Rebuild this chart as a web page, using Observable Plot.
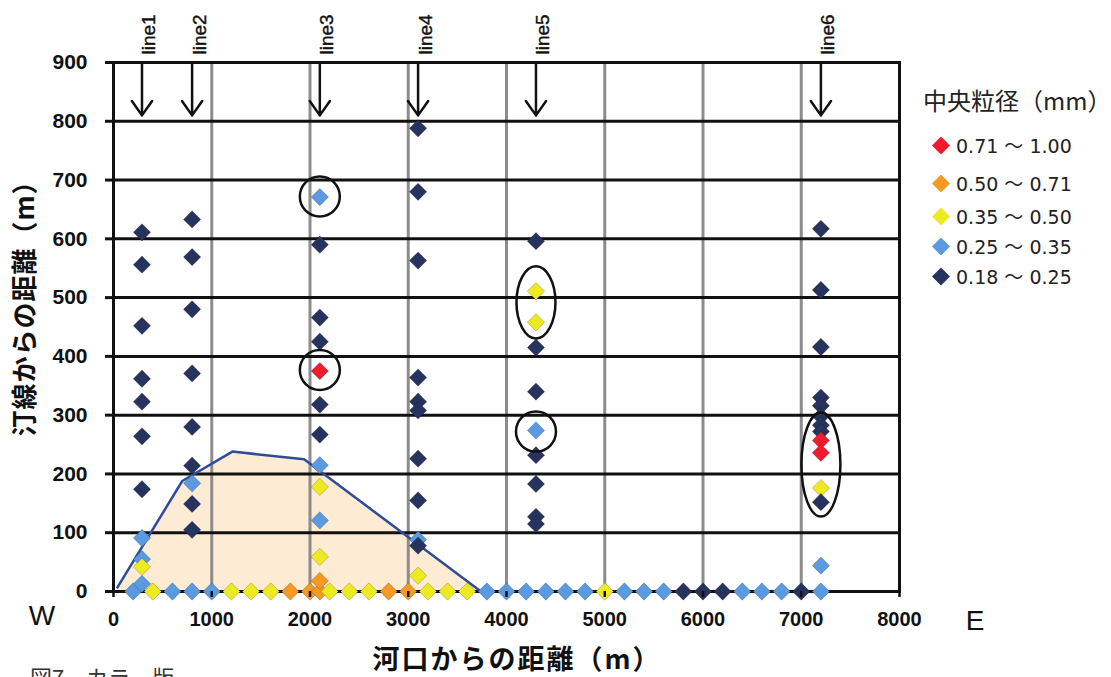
<!DOCTYPE html>
<html><head><meta charset="utf-8">
<script src="https://cdn.jsdelivr.net/npm/d3@7"></script>
<script src="https://cdn.jsdelivr.net/npm/@observablehq/plot@0.6"></script>
<style>
body{margin:0;background:#fff;}
#wrap{position:relative;width:1111px;height:677px;overflow:hidden;background:#fff;}
.t{position:absolute;white-space:nowrap;color:#111;line-height:1;}
.cjk{font-family:"Noto Sans CJK JP","Noto Sans",sans-serif;}
.lat{font-family:"Liberation Sans",Arial,sans-serif;}
.leg{font-family:"DejaVu Sans",Verdana,sans-serif;font-size:19px;color:#222;}
.wave{font-family:"Noto Sans CJK JP",sans-serif;}
</style></head><body><div id="wrap"></div>
<script>
// ---- data ----
const sizeClasses = ["0.71 ～ 1.00", "0.50 ～ 0.71", "0.35 ～ 0.50", "0.25 ～ 0.35", "0.18 ～ 0.25"];
const classColors = ["#ee1c2e", "#f39a25", "#eeea22", "#5a9ae0", "#27335f"];

const lineNames = ["line1", "line2", "line3", "line4", "line5", "line6"];
const lineX = [290, 800, 2100, 3100, 4300, 7200];

// class index: 0 red, 1 orange, 2 yellow, 3 light blue, 4 navy
const line1Y = [611, 556, 452, 362, 323, 264, 174, 91, 55, 42, 13];
const line1C = [4, 4, 4, 4, 4, 4, 4, 3, 3, 2, 3];
const line2Y = [633, 569, 480, 371, 280, 214, 184, 149, 105];
const line2C = [4, 4, 4, 4, 4, 4, 3, 4, 4];
const line3Y = [671, 590, 466, 425, 375, 318, 267, 215, 178, 121, 59, 18];
const line3C = [3, 4, 4, 4, 0, 4, 4, 3, 2, 3, 2, 1];
const line4Y = [788, 680, 563, 364, 323, 308, 226, 155, 88, 78, 27];
const line4C = [4, 4, 4, 4, 4, 4, 4, 4, 3, 4, 2];
const line5Y = [596, 511, 458, 415, 340, 274, 232, 183, 127, 115];
const line5C = [4, 2, 2, 4, 4, 3, 4, 4, 4, 4];
const line6Y = [617, 513, 416, 330, 316, 298, 283, 272, 257, 236, 176, 152, 44];
const line6C = [4, 4, 4, 4, 4, 4, 4, 4, 0, 0, 2, 4, 3];

// samples on the shoreline (y = 0)
const shoreX = [200, 400, 600, 800, 1000, 1200, 1400, 1600, 1800, 2000, 2100, 2200, 2400, 2600, 2800, 3000, 3200, 3400, 3600,
  3800, 4000, 4200, 4400, 4600, 4800, 5000, 5200, 5400, 5600, 5800, 6000, 6200, 6400, 6600, 6800, 7000, 7200];
const shoreC = [3, 2, 3, 3, 3, 2, 2, 2, 1, 1, 1, 2, 2, 2, 1, 1, 2, 2, 2,
  3, 3, 3, 3, 3, 3, 2, 3, 3, 3, 4, 4, 4, 3, 3, 3, 4, 3];

// shaded profile
const profileX = [40, 700, 1210, 1940, 3740];
const profileY = [7, 188, 238, 225, 0];

// annotations
const circleX = [2100, 2100, 4300];
const circleY = [672, 377, 272];
const ovalAX = [4300], ovalAY = [492];
const ovalBX = [7200], ovalBY = [216];

const xTicks = [0, 1000, 2000, 3000, 4000, 5000, 6000, 7000, 8000];
const yTicks = [0, 100, 200, 300, 400, 500, 600, 700, 800, 900];
const xGrid = [1000, 2000, 3000, 4000, 5000, 6000, 7000];

// ---- build tables ----
const colsY = [line1Y, line2Y, line3Y, line4Y, line5Y, line6Y];
const colsC = [line1C, line2C, line3C, line4C, line5C, line6C];
const points = [];
shoreX.forEach((x, i) => points.push({x, y: 0, c: shoreC[i]}));
colsY.forEach((ys, j) => ys.forEach((y, i) => points.push({x: lineX[j], y, c: colsC[j][i]})));
const profile = profileX.map((x, i) => ({x, y: profileY[i]}));
const lines = lineNames.map((name, i) => ({name, x: lineX[i]}));

function ovalSymbol(k) {
  return {draw(ctx, size) {
    const rx = Math.sqrt(size / Math.PI), ry = rx * k, c = 0.5523;
    ctx.moveTo(rx, 0);
    ctx.bezierCurveTo(rx, c * ry, c * rx, ry, 0, ry);
    ctx.bezierCurveTo(-c * rx, ry, -rx, c * ry, -rx, 0);
    ctx.bezierCurveTo(-rx, -c * ry, -c * rx, -ry, 0, -ry);
    ctx.bezierCurveTo(c * rx, -ry, rx, -c * ry, rx, 0);
    ctx.closePath();
  }};
}

const chart = Plot.plot({
  width: 1111, height: 677,
  marginLeft: 113, marginRight: 212, marginTop: 62, marginBottom: 86,
  x: {domain: [0, 8000]},
  y: {domain: [0, 900]},
  color: {type: "ordinal", domain: [0, 1, 2, 3, 4], range: classColors},
  style: {fontFamily: "'Liberation Sans', Arial, sans-serif", fontSize: "20px", color: "#111", background: "transparent"},
  marks: [
    Plot.areaY(profile, {x: "x", y: "y", fill: "#fdebd4"}),
    Plot.ruleX(xGrid, {stroke: "#8c8c8c", strokeWidth: 3}),
    Plot.ruleY(yTicks, {stroke: "#111", strokeWidth: 3}),
    Plot.frame({stroke: "#111", strokeWidth: 3}),
    Plot.line(profile, {x: "x", y: "y", stroke: "#2f4b9b", strokeWidth: 2.5}),
    Plot.dot(points, {x: "x", y: "y", fill: "c", symbol: "diamond2", r: 7.8, stroke: "rgba(0,0,0,0.25)", strokeWidth: 0.8}),
    Plot.dot(circleX.map((x, i) => ({x, y: circleY[i]})), {x: "x", y: "y", r: 20, fill: "none", stroke: "#111", strokeWidth: 2.5}),
    Plot.dot(ovalAX.map((x, i) => ({x, y: ovalAY[i]})), {x: "x", y: "y", r: 19.5, symbol: ovalSymbol(1.85), fill: "none", stroke: "#111", strokeWidth: 2.5}),
    Plot.dot(ovalBX.map((x, i) => ({x, y: ovalBY[i]})), {x: "x", y: "y", r: 19.5, symbol: ovalSymbol(2.67), fill: "none", stroke: "#111", strokeWidth: 2.5}),
    Plot.arrow(lines, {x: "x", y1: () => 900, y2: () => 810, stroke: "#111", strokeWidth: 2.5, headLength: 14, headAngle: 70}),
    Plot.text(lines, {x: "x", frameAnchor: "top", text: "name", rotate: -90, textAnchor: "start", dy: -8, fontSize: 19, fill: "#111", stroke: "#111", strokeWidth: 0.4}),
    Plot.axisY({ticks: yTicks, tickSize: 8, tickPadding: 18, strokeWidth: 3, fontWeight: "bold", fontSize: 21, label: null, tickFormat: d => String(d)}),
    Plot.axisX({ticks: xTicks, tickSize: 6, tickPadding: 14, strokeWidth: 2.5, fontWeight: "bold", fontSize: 20, label: null, tickFormat: d => String(d)})
  ]
});

const wrap = document.getElementById("wrap");
wrap.appendChild(chart);

function addText(html, cls, css) {
  const d = document.createElement("div");
  d.className = "t " + cls;
  d.innerHTML = html;
  Object.assign(d.style, css);
  wrap.appendChild(d);
  return d;
}
// axis titles and compass letters
addText("汀線からの距離（m）", "cjk", {left: "23px", top: "302px", fontSize: "26px", fontWeight: "700", letterSpacing: "1px", transform: "translate(-50%,-50%) rotate(-90deg)"});
addText("河口からの距離（m）", "cjk", {left: "517px", top: "657px", fontSize: "27px", fontWeight: "700", letterSpacing: "2px", transform: "translate(-50%,-50%)"});
addText("W", "lat", {left: "42px", top: "616px", fontSize: "28px", transform: "translate(-50%,-50%)"});
addText("E", "lat", {left: "975px", top: "621px", fontSize: "28px", transform: "translate(-50%,-50%)"});
addText("図7　カラー版", "cjk", {left: "30px", top: "665px", fontSize: "22px", color: "#333"});

// legend
addText("中央粒径（mm）", "cjk", {left: "923px", top: "88px", fontSize: "24px", color: "#222"});
const legTops = [145, 183, 216, 246, 276];
sizeClasses.forEach((label, i) => {
  const parts = label.split("～");
  addText(`<svg width="18" height="18" style="vertical-align:middle;margin-right:6px"><path d="M9,0L18,9L9,18L0,9Z" fill="${classColors[i]}"/></svg><span style="vertical-align:middle">${parts[0]}<span class="wave">～</span>${parts[1]}</span>`,
    "leg", {left: "932px", top: legTops[i] + "px", transform: "translateY(-50%)"});
});
</script></body></html>
